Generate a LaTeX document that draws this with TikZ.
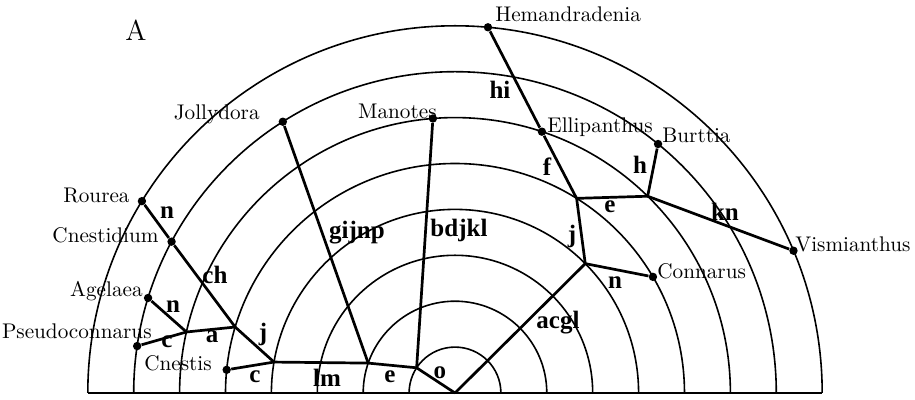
\documentclass[tikz,border=0pt]{standalone}
\usepackage{fontspec}
\usepackage{tikz}
\newfontfamily\charfont{Liberation Serif}

\begin{document}
\begin{tikzpicture}[x=22.95pt, y=22.95pt,
    ring/.style={line width=0.8pt},
    branch/.style={line width=1.35pt},
    dot/.style={circle, fill, inner sep=0pt, minimum size=4.2pt},
    taxon/.style={font=\fontsize{10.6}{12}\selectfont, inner sep=0pt},
    change/.style={font=\charfont\fontsize{12.5}{14}\selectfont\bfseries, inner sep=0pt}]
    \useasboundingbox (-9.913,-0.131) rectangle (10.022,8.562);

    \foreach \r in {1,...,8}
        \draw[ring] (\r,0) arc[start angle=0, end angle=180, radius=\r];
    \draw[ring] (-8,0) -- (8,0);

    \node[font=\fontsize{14.4}{16}\selectfont, anchor=base] (panel) at (-6.95,7.69) {A};

    % junctions
    \coordinate (root) at (0,0);
    \coordinate (nO) at (146.7:1);
    \coordinate (nE) at (161:2);
    \coordinate (nLm) at (170.3:4);
    \coordinate (nJ) at (163.3:5);
    \coordinate (nA) at (167.2:6);
    \coordinate (nAcgl) at (44.8:4);
    \coordinate (nJr) at (58:5);
    \coordinate (nEr) at (45.6:6);

    % taxa
    \node[dot] (hem) at (84.85:8) {};
    \node[dot] (jol) at (122.4:7) {};
    \node[dot] (man) at (94.6:6) {};
    \node[dot] (ell) at (71.6:6) {};
    \node[dot] (bur) at (50.8:7) {};
    \node[dot] (vis) at (22.8:8) {};
    \node[dot] (con) at (30.4:5) {};
    \node[dot] (rou) at (148.5:8) {};
    \node[dot] (cnd) at (151.9:7) {};
    \node[dot] (age) at (162.8:7) {};
    \node[dot] (pse) at (171.6:7) {};
    \node[dot] (cns) at (174.2:5) {};

    \node[taxon, anchor=base west] (hemname) at (0.871,8.083) {Hemandradenia};
    \node[taxon, anchor=base east] (jolname) at (-4.248,5.948) {Jollydora};
    \node[taxon, anchor=base east] (manname) at (-0.392,5.991) {Manotes};
    \node[taxon, anchor=base west] (ellname) at (2.004,5.686) {Ellipanthus};
    \node[taxon, anchor=base west] (burname) at (4.510,5.447) {Burttia};
    \node[taxon, anchor=base west] (visname) at (7.407,3.072) {Vismianthus};
    \node[taxon, anchor=base west] (conname) at (4.401,2.505) {Connarus};
    \node[taxon, anchor=base east] (rouname) at (-7.081,4.161) {Rourea};
    \node[taxon, anchor=base east] (cndname) at (-6.449,3.268) {Cnestidium};
    \node[taxon, anchor=base east] (agename) at (-6.797,2.092) {Agelaea};
    \node[taxon, anchor=base east] (psename) at (-6.601,1.198) {Pseudoconnarus};
    \node[taxon, anchor=base east] (cnsname) at (-5.294,0.480) {Cnestis};

    % branches
    \draw[branch] (root) -- (nO) -- (nE) -- (nLm) -- (cns);
    \draw[branch] (nLm) -- (nJ) -- (nA) -- (age);
    \draw[branch] (nA) -- (pse);
    \draw[branch] (nJ) -- (cnd) -- (rou);
    \draw[branch] (nE) -- (jol);
    \draw[branch] (nO) -- (man);
    \draw[branch] (root) -- (nAcgl) -- (con);
    \draw[branch] (nAcgl) -- (nJr) -- (ell) -- (hem);
    \draw[branch] (nJr) -- (nEr) -- (bur);
    \draw[branch] (nEr) -- (vis);

    % character changes
    \node[change] (chHi) at (0.980,6.601) {hi};
    \node[change] (chF) at (2.004,4.924) {f};
    \node[change] (chH) at (4.031,4.967) {h};
    \node[change] (chEr) at (3.377,4.052) {e};
    \node[change] (chKn) at (5.882,3.943) {kn};
    \node[change] (chJr) at (2.549,3.399) {j};
    \node[change] (chNr) at (3.486,2.397) {n};
    \node[change] (chAcgl) at (2.244,1.525) {acgl};
    \node[change] (chO) at (-0.327,0.436) {o};
    \node[change] (chE) at (-1.416,0.349) {e};
    \node[change] (chLm) at (-2.789,0.327) {lm};
    \node[change] (chC) at (-4.357,0.349) {c};
    \node[change] (chBdjkl) at (0.087,3.540) {bdjkl};
    \node[change] (chGijnp) at (-2.135,3.486) {gijnp};
    \node[change] (chJ) at (-4.183,1.264) {j};
    \node[change] (chA) at (-5.294,1.220) {a};
    \node[change] (chCp) at (-6.275,1.120) {c};
    \node[change] (chNa) at (-6.144,1.874) {n};
    \node[change] (chCh) at (-5.229,2.571) {ch};
    \node[change] (chNr2) at (-6.275,3.922) {n};
\end{tikzpicture}
\end{document}
